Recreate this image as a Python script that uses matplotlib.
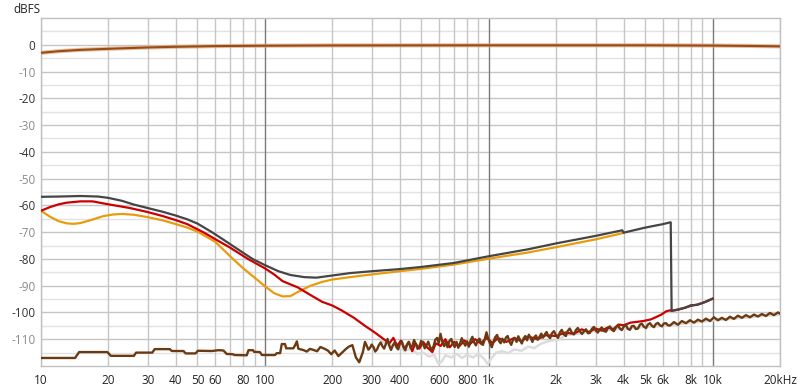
import matplotlib
matplotlib.use("Agg")
import matplotlib.pyplot as plt

# ---- data (Hz, dBFS) ----
resp_f = [10, 12, 15, 20, 30, 40, 60, 100, 200, 1000, 5000, 10000, 15000, 20000]
resp_db = [-3.0, -2.4, -1.9, -1.5, -1.0, -0.75, -0.5, -0.35, -0.25, -0.2, -0.2, -0.3, -0.45, -0.6]

gray_f = [10, 12, 15, 18, 20, 23, 26, 30, 35, 40, 45, 50, 58, 65, 70, 80, 88, 100, 115,
          130, 150, 170, 200, 240, 300, 400, 500, 700, 1000, 1500, 2000, 3000, 3950,
          4000, 5000, 6000, 6500, 6560, 7000, 7600, 8000, 8500, 9200, 10000]
gray_db = [-56.8, -56.7, -56.5, -56.7, -57.2, -58.3, -59.7, -61.0, -62.4, -63.8, -65.2, -66.8,
           -70.0, -72.7, -74.5, -77.7, -80.0, -82.3, -84.6, -86.0, -86.8, -87.0, -86.2, -85.3,
           -84.6, -83.8, -83.0, -81.5, -79.0, -76.4, -74.2, -71.4, -69.3, -70.2, -68.3, -67.0,
           -66.3, -99.4, -99.0, -98.1, -97.3, -97.2, -96.2, -94.8]

orange_f = [10, 11, 12, 13, 14, 15, 17, 19, 21, 23, 26, 30, 35, 40, 45, 50, 60, 72, 80, 90,
            100, 110, 120, 130, 140, 160, 180, 200, 240, 300, 400, 500, 700, 1000, 1500,
            2000, 3000, 4000]
orange_db = [-62.0, -64.3, -65.9, -66.7, -66.9, -66.6, -65.3, -64.0, -63.4, -63.2, -63.5, -64.4,
             -65.6, -67.0, -68.3, -69.8, -73.6, -80.0, -83.5, -87.0, -90.2, -92.8, -94.0,
             -93.9, -92.4, -90.0, -88.6, -87.7, -86.8, -85.8, -84.6, -83.7, -82.1, -79.9,
             -77.6, -75.6, -72.7, -70.3]

red_f = [10, 11, 12, 13, 15, 17, 20, 25, 30, 35, 40, 45, 53, 60, 70, 84, 100, 110, 120, 140,
         160, 180, 200, 220, 250, 280, 310, 340, 360, 375, 390, 405, 420, 440, 455, 470, 490,
         510, 530, 560, 580, 610, 640, 670, 700, 740, 780, 820, 870, 920, 980, 1040, 1100,
         1200, 1300, 1400, 1500, 1650, 1800, 2000, 2200, 2400, 2600, 2800, 3000, 3200, 3400,
         3600, 3800, 4000, 4300, 4600, 4900, 5300, 5600, 5900, 6200, 6450, 6560, 7500, 8000,
         8600, 9300, 10000]
red_db = [-62.0, -60.6, -59.6, -59.0, -58.5, -58.5, -59.6, -61.0, -62.5, -64.0, -65.5, -67.0,
          -70.0, -72.6, -75.8, -80.0, -83.5, -85.8, -88.3, -90.6, -93.5, -96.0, -97.4, -99.2,
          -102.0, -105.0, -107.5, -110.0, -111.5, -109.5, -112.5, -110.5, -113.5, -111.0,
          -114.5, -111.5, -113.5, -111.0, -113.0, -114.8, -111.5, -112.5, -110.0, -113.0,
          -111.0, -112.5, -110.5, -112.0, -110.0, -111.5, -109.5, -111.5, -109.5, -111.0,
          -109.5, -110.8, -109.0, -110.0, -108.5, -108.8, -107.5, -108.0, -106.3, -107.3,
          -106.0, -106.8, -105.6, -106.2, -104.5, -104.8, -103.8, -103.5, -103.2, -102.6,
          -101.7, -100.8, -99.6, -99.2, -99.4, -98.3, -97.5, -97.0, -96.0, -94.9]

noise_f = [10, 14.2, 14.8, 19.8, 20.5, 26.0, 26.6, 31.4, 32.2, 37.6, 38.4, 43.3, 44.3, 49.0,
           50.2, 58, 62, 65.3, 67.5, 72, 73, 83, 84.5, 88.5, 89.5, 95, 97, 111, 113, 117, 119,
           123, 124.5, 134, 136, 139, 141,
           143, 148, 154, 159, 165, 171, 177, 184, 191, 198, 205, 213, 221, 229, 237, 246,
           255, 264, 274,
           280, 285, 290, 295, 300, 306, 311, 317, 323, 329, 335, 341, 347, 353, 360, 366,
           373, 380, 387, 394, 401, 409, 416, 424, 432, 439, 448, 456, 464, 473, 481, 490,
           499, 508, 518, 527, 537, 546, 556, 567, 577, 588, 598, 609, 620, 632, 643, 655,
           667, 680, 692, 705, 718, 731, 745, 758, 772, 786, 801, 815, 830, 845, 861, 876,
           892, 909, 926, 942, 960, 977, 995, 1013, 1032, 1051, 1070, 1090, 1110, 1130,
           1151, 1172, 1193, 1215, 1238, 1260, 1283, 1307, 1331, 1355, 1380, 1405, 1431,
           1457, 1484, 1511, 1539, 1567, 1596, 1625, 1655, 1685, 1716, 1748, 1780, 1812,
           1846, 1880, 1915,
           1955, 2000, 2040, 2080, 2120, 2160, 2210, 2250, 2300, 2350, 2400, 2450, 2500,
           2560, 2610, 2670, 2720, 2780, 2830, 2890, 2950, 3010, 3070, 3140, 3200, 3270,
           3340, 3410, 3480, 3550, 3620, 3700, 3780, 3850, 3930, 4010, 4100, 4180, 4270,
           4360, 4450, 4540, 4640, 4730, 4830, 4930, 5040, 5140, 5250, 5360, 5470, 5580,
           5700, 5820, 5940, 6060, 6190, 6320, 6450, 6720, 7000, 7290, 7600, 7920, 8250,
           8600, 8960, 9340, 9730, 10140, 10560, 11000, 11470, 11950, 12450, 12970, 13520,
           14090, 14680, 15300, 15940, 16600, 17300, 18030, 18790, 19580, 20000]
noise_db = [-117.0, -117.0, -114.8, -114.8, -116.2, -116.2, -115.0, -115.0, -113.7, -113.7,
            -114.4, -114.4, -115.3, -115.3, -114.3, -114.4, -114.1, -114.2, -115.5, -115.6,
            -115.9, -116.0, -114.1, -114.1, -114.7, -114.8, -115.9, -115.9, -115.2, -115.2,
            -111.8, -111.8, -113.4, -113.4, -112.5, -110.8, -113.5,
            -113.7, -114.0, -114.6, -113.6, -114.0, -114.5, -112.9, -113.5, -114.2, -115.6,
            -114.2, -116.3, -115.0, -113.8, -112.8, -112.2, -116.8, -118.6, -114.8,
            -111.0, -112.4, -113.9, -113.2, -112.0, -113.0, -114.6, -113.8, -112.2, -111.2,
            -112.6, -113.5, -111.8, -109.9, -112.5, -114.0, -112.3, -111.2, -113.0, -113.8,
            -111.6, -110.8, -112.9, -114.1, -112.0, -111.0, -113.3, -112.4, -110.3, -111.9,
            -113.6, -112.7, -110.6, -111.5, -113.4, -112.3, -110.9, -112.8, -114.0, -112.6,
            -110.2, -109.5, -111.4, -108.0, -110.9, -112.6, -111.2, -113.0, -110.7, -109.9,
            -111.8, -112.9, -111.0, -113.2, -111.5, -109.6, -111.3, -112.4, -110.8, -112.8,
            -110.5, -109.1, -111.2, -112.3, -110.6, -109.8, -111.7, -112.1, -110.0, -107.4,
            -109.9, -111.6, -113.0, -110.8, -109.2, -108.4, -110.6, -111.5, -109.8, -111.2,
            -109.4, -108.8, -110.9, -112.1, -110.3, -109.5, -111.0, -108.9, -110.2, -111.6,
            -109.7, -108.8, -110.4, -108.3, -109.6, -111.0, -109.3, -108.6, -110.2, -109.1,
            -107.9, -109.4, -108.2, -107.3, -108.9, -109.6, -107.8,
            -107.0, -108.6, -109.5, -107.4, -106.5, -108.1, -108.8, -107.0, -106.0, -107.5,
            -108.2, -106.6, -105.8, -107.2, -108.0, -106.9, -106.3, -107.8, -107.6, -106.1,
            -105.4, -106.8, -107.5, -106.2, -105.6, -106.9, -107.2, -105.7, -105.2, -106.5,
            -107.0, -105.6, -104.8, -106.0, -106.6, -105.3, -104.7, -106.1, -106.5, -105.1,
            -105.0, -106.2, -106.0, -104.6, -104.2, -105.3, -105.8, -104.5, -104.0, -105.0,
            -105.5, -104.3, -103.9, -104.8, -105.2, -104.1, -104.0, -104.8, -104.9, -103.6,
            -104.6, -103.2, -104.0, -102.9, -103.8, -102.7, -103.4, -102.3, -103.2, -101.8,
            -102.9, -102.0, -102.8, -101.6, -102.4, -101.2, -102.0, -101.0, -101.8, -100.8,
            -101.5, -100.6, -101.3, -100.2, -101.0, -100.0, -100.4]

ghost_f = [330, 360, 390, 420, 450, 480, 510, 540, 570, 595, 615, 640, 680, 720, 760, 800,
           850, 900, 950, 990, 1030, 1080, 1150, 1220, 1300, 1400, 1500, 1600, 1700, 1800,
           1900, 2050, 2200, 2500, 3000, 4000, 6000, 10000, 20000]
ghost_db = [-110.5, -112.5, -112.0, -114.5, -113.5, -115.5, -115.0, -116.5, -115.8, -119.0,
            -118.5, -116.0, -116.8, -115.5, -117.0, -115.8, -116.8, -115.5, -117.2, -119.2,
            -117.0, -115.0, -114.5, -115.2, -113.8, -114.3, -112.8, -113.3, -111.8, -111.0,
            -110.5, -110.2, -108.5, -108.0, -107.0, -106.0, -105.0, -103.0, -100.8]

xtick_vals = [10, 20, 30, 40, 50, 60, 70, 80, 90, 100, 200, 300, 400, 500, 600, 700, 800, 900,
              1000, 2000, 3000, 4000, 5000, 6000, 7000, 8000, 9000, 10000, 20000]
xtick_labels = ['10', '20', '30', '40', '50', '60', '', '80', '', '100', '200', '300', '400',
                '', '600', '', '800', '', '1k', '2k', '3k', '4k', '5k', '6k', '', '8k', '',
                '10k', '20kHz']
ytick_vals = list(range(0, -111, -10))

plt.rcParams['font.family'] = ['Open Sans', 'DejaVu Sans']

fig = plt.figure(figsize=(8, 3.91), dpi=100)
ax = fig.add_axes([41 / 800, 1 - 366 / 391, 739 / 800, 348 / 391])
ax.set_xscale('log')
ax.set_xlim(10, 20000)
ax.set_ylim(-120, 10)

# grid
for y in range(-115, 10, 5):
    ax.axhline(y, color='#c6c6c6' if y % 10 == 0 else '#e2e2e2', lw=1.0, zorder=0)
for x in xtick_vals:
    c = '#7a7a7a' if x in (100, 1000, 10000) else '#c6c6c6'
    ax.axvline(x, color=c, lw=1.0, zorder=0)
for s in ax.spines.values():
    s.set_color('#c0c0c0')
    s.set_linewidth(1.0)

ax.plot(ghost_f, ghost_db, color='#dcdcdc', lw=1.8, zorder=2)
ax.plot(orange_f, orange_db, color='#e89c0c', lw=1.6, zorder=3)
ax.plot(red_f, red_db, color='#cc0000', lw=1.6, zorder=4)
ax.plot(noise_f, noise_db, color='#6b3a12', lw=1.7, zorder=5)
ax.plot(gray_f, gray_db, color='#454545', lw=1.6, zorder=6)
ax.plot(resp_f, resp_db, color='#d9a77e', lw=3.0, alpha=0.7, zorder=7)
ax.plot(resp_f, resp_db, color='#9a4a14', lw=1.5, zorder=8)

ax.set_xticks(xtick_vals)
ax.set_xticklabels(xtick_labels)
ax.xaxis.set_minor_locator(matplotlib.ticker.NullLocator())
ax.set_yticks(ytick_vals)
ax.set_yticklabels(['%d' % v if v == 0 else '-%d' % abs(v) for v in ytick_vals])
ax.tick_params(axis='both', length=0, labelsize=8.5)
ax.tick_params(axis='x', pad=6, labelcolor='#222222')
ax.tick_params(axis='y', pad=4)
for lab, v in zip(ax.get_yticklabels(), ytick_vals):
    lab.set_color('#333333' if v % 20 == 0 else '#8a8a8a')

fig.text(13 / 800, 1 - 3 / 391, 'dBFS', ha='left', va='top', fontsize=8.5, color='#222222')

fig.savefig('out.png', dpi=100, facecolor='white')
